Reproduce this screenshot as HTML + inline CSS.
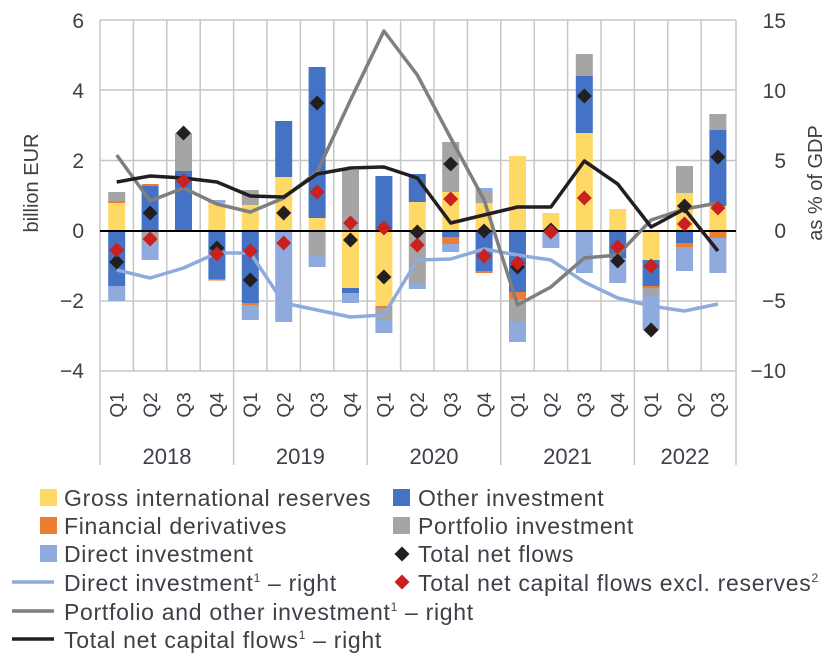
<!DOCTYPE html>
<html><head><meta charset="utf-8"><style>
html,body{margin:0;padding:0;background:#fff;}
svg{display:block;font-family:"Liberation Sans",Arial,sans-serif;}
text{fill:#3c4047;}
</style></head><body>
<svg width="840" height="660" viewBox="0 0 840 660" xmlns="http://www.w3.org/2000/svg">
<defs>
<path id="dk" d="M0,-7.5L7.5,0L0,7.5L-7.5,0Z" fill="#231f20"/>
<path id="dr" d="M0,-7.5L7.5,0L0,7.5L-7.5,0Z" fill="#c8211f"/>
</defs>
<g stroke="#c6c6c6" stroke-width="1.5">
<line x1="100" y1="20" x2="736" y2="20"/>
<line x1="100" y1="90" x2="736" y2="90"/>
<line x1="100" y1="160.5" x2="736" y2="160.5"/>
<line x1="100" y1="301" x2="736" y2="301"/>
<line x1="100" y1="371" x2="736" y2="371"/>
<line x1="100" y1="20" x2="100" y2="465"/>
<line x1="133.4" y1="20" x2="133.4" y2="371"/>
<line x1="166.8" y1="20" x2="166.8" y2="371"/>
<line x1="200.2" y1="20" x2="200.2" y2="371"/>
<line x1="233.6" y1="20" x2="233.6" y2="465"/>
<line x1="267" y1="20" x2="267" y2="371"/>
<line x1="300.4" y1="20" x2="300.4" y2="371"/>
<line x1="333.8" y1="20" x2="333.8" y2="371"/>
<line x1="367.2" y1="20" x2="367.2" y2="465"/>
<line x1="400.6" y1="20" x2="400.6" y2="371"/>
<line x1="434" y1="20" x2="434" y2="371"/>
<line x1="467.4" y1="20" x2="467.4" y2="371"/>
<line x1="500.8" y1="20" x2="500.8" y2="465"/>
<line x1="534.2" y1="20" x2="534.2" y2="371"/>
<line x1="567.6" y1="20" x2="567.6" y2="371"/>
<line x1="601" y1="20" x2="601" y2="371"/>
<line x1="634.4" y1="20" x2="634.4" y2="465"/>
<line x1="667.8" y1="20" x2="667.8" y2="371"/>
<line x1="701.2" y1="20" x2="701.2" y2="371"/>
<line x1="736" y1="20" x2="736" y2="465"/>
</g>
<g>
<rect x="108.2" y="192" width="17" height="9" fill="#a5a5a5"/>
<rect x="108.2" y="201" width="17" height="2" fill="#ed7d31"/>
<rect x="108.2" y="203" width="17" height="28" fill="#ffd966"/>
<rect x="108.2" y="231" width="17" height="55" fill="#4472c4"/>
<rect x="108.2" y="286" width="17" height="15" fill="#8faadc"/>
<rect x="141.6" y="184" width="17" height="2" fill="#ed7d31"/>
<rect x="141.6" y="186" width="17" height="45" fill="#4472c4"/>
<rect x="141.6" y="231" width="17" height="13" fill="#a5a5a5"/>
<rect x="141.6" y="244" width="17" height="16" fill="#8faadc"/>
<rect x="175" y="133" width="17" height="38" fill="#a5a5a5"/>
<rect x="175" y="171" width="17" height="60" fill="#4472c4"/>
<rect x="208.4" y="200" width="17" height="3" fill="#8faadc"/>
<rect x="208.4" y="203" width="17" height="28" fill="#ffd966"/>
<rect x="208.4" y="231" width="17" height="48" fill="#4472c4"/>
<rect x="208.4" y="279" width="17" height="1.5" fill="#ed7d31"/>
<rect x="241.8" y="190" width="17" height="15" fill="#a5a5a5"/>
<rect x="241.8" y="205" width="17" height="26" fill="#ffd966"/>
<rect x="241.8" y="231" width="17" height="72" fill="#4472c4"/>
<rect x="241.8" y="303" width="17" height="2" fill="#ed7d31"/>
<rect x="241.8" y="305" width="17" height="15" fill="#8faadc"/>
<rect x="275.2" y="121" width="17" height="56" fill="#4472c4"/>
<rect x="275.2" y="177" width="17" height="54" fill="#ffd966"/>
<rect x="275.2" y="231" width="17" height="91" fill="#8faadc"/>
<rect x="308.6" y="67" width="17" height="151" fill="#4472c4"/>
<rect x="308.6" y="218" width="17" height="13" fill="#ffd966"/>
<rect x="308.6" y="231" width="17" height="25" fill="#a5a5a5"/>
<rect x="308.6" y="256" width="17" height="11" fill="#8faadc"/>
<rect x="342" y="170" width="17" height="61" fill="#a5a5a5"/>
<rect x="342" y="231" width="17" height="57" fill="#ffd966"/>
<rect x="342" y="288" width="17" height="5" fill="#4472c4"/>
<rect x="342" y="293" width="17" height="10" fill="#8faadc"/>
<rect x="375.4" y="176" width="17" height="55" fill="#4472c4"/>
<rect x="375.4" y="231" width="17" height="75" fill="#ffd966"/>
<rect x="375.4" y="306" width="17" height="2" fill="#ed7d31"/>
<rect x="375.4" y="308" width="17" height="12" fill="#a5a5a5"/>
<rect x="375.4" y="320" width="17" height="13" fill="#8faadc"/>
<rect x="408.8" y="174" width="17" height="28" fill="#4472c4"/>
<rect x="408.8" y="202" width="17" height="29" fill="#ffd966"/>
<rect x="408.8" y="231" width="17" height="53" fill="#a5a5a5"/>
<rect x="408.8" y="284" width="17" height="5" fill="#8faadc"/>
<rect x="442.2" y="142" width="17" height="50" fill="#a5a5a5"/>
<rect x="442.2" y="192" width="17" height="39" fill="#ffd966"/>
<rect x="442.2" y="231" width="17" height="6" fill="#4472c4"/>
<rect x="442.2" y="237" width="17" height="7" fill="#ed7d31"/>
<rect x="442.2" y="244" width="17" height="8" fill="#8faadc"/>
<rect x="475.6" y="188" width="17" height="3" fill="#8faadc"/>
<rect x="475.6" y="191" width="17" height="12" fill="#a5a5a5"/>
<rect x="475.6" y="203" width="17" height="28" fill="#ffd966"/>
<rect x="475.6" y="231" width="17" height="40" fill="#4472c4"/>
<rect x="475.6" y="271" width="17" height="2" fill="#ed7d31"/>
<rect x="509" y="156" width="17" height="75" fill="#ffd966"/>
<rect x="509" y="231" width="17" height="61" fill="#4472c4"/>
<rect x="509" y="292" width="17" height="7" fill="#ed7d31"/>
<rect x="509" y="299" width="17" height="23" fill="#a5a5a5"/>
<rect x="509" y="322" width="17" height="20" fill="#8faadc"/>
<rect x="542.4" y="213" width="17" height="18" fill="#ffd966"/>
<rect x="542.4" y="231" width="17" height="17" fill="#8faadc"/>
<rect x="575.8" y="54" width="17" height="22" fill="#a5a5a5"/>
<rect x="575.8" y="76" width="17" height="57" fill="#4472c4"/>
<rect x="575.8" y="133" width="17" height="98" fill="#ffd966"/>
<rect x="575.8" y="231" width="17" height="42" fill="#8faadc"/>
<rect x="609.2" y="209" width="17" height="22" fill="#ffd966"/>
<rect x="609.2" y="231" width="17" height="27" fill="#4472c4"/>
<rect x="609.2" y="258" width="17" height="25" fill="#8faadc"/>
<rect x="642.6" y="231" width="17" height="29" fill="#ffd966"/>
<rect x="642.6" y="260" width="17" height="26" fill="#4472c4"/>
<rect x="642.6" y="286" width="17" height="2" fill="#ed7d31"/>
<rect x="642.6" y="288" width="17" height="8" fill="#a5a5a5"/>
<rect x="642.6" y="296" width="17" height="34" fill="#8faadc"/>
<rect x="676" y="166" width="17" height="27" fill="#a5a5a5"/>
<rect x="676" y="193" width="17" height="38" fill="#ffd966"/>
<rect x="676" y="231" width="17" height="12" fill="#4472c4"/>
<rect x="676" y="243" width="17" height="4" fill="#ed7d31"/>
<rect x="676" y="247" width="17" height="24" fill="#8faadc"/>
<rect x="709.4" y="114" width="17" height="16" fill="#a5a5a5"/>
<rect x="709.4" y="130" width="17" height="76" fill="#4472c4"/>
<rect x="709.4" y="206" width="17" height="25" fill="#ffd966"/>
<rect x="709.4" y="231" width="17" height="7" fill="#ed7d31"/>
<rect x="709.4" y="238" width="17" height="35" fill="#8faadc"/>
</g>
<line x1="100" y1="231" x2="736" y2="231" stroke="#000" stroke-width="2"/>
<g fill="none" stroke-width="3.5" stroke-linejoin="round">
<polyline stroke="#8faadc" points="116.7,270 150.1,278 183.5,268 216.9,253 250.3,253 283.7,303 317.1,310 350.5,317 383.9,315 417.3,260 450.7,259 484.1,249 517.5,255 550.9,260 584.3,282 617.7,298 651.1,306 684.5,311 717.9,304"/>
<polyline stroke="#7f7f7f" points="116.7,155 150.1,201 183.5,188 216.9,204 250.3,212 283.7,198 317.1,172 350.5,100 383.9,31 417.3,75 450.7,138 484.1,200 517.5,305 550.9,287 584.3,258 617.7,255 651.1,220 684.5,209 717.9,203"/>
<polyline stroke="#231f20" points="116.7,182 150.1,176 183.5,178 216.9,182 250.3,196 283.7,197 317.1,174 350.5,168 383.9,167 417.3,178 450.7,223 484.1,215 517.5,207 550.9,207 584.3,161 617.7,184 651.1,227 684.5,209 717.9,251"/>
</g>
<use href="#dk" x="116.7" y="262"/><use href="#dr" x="116.7" y="250"/>
<use href="#dk" x="150.1" y="213"/><use href="#dr" x="150.1" y="239"/>
<use href="#dk" x="183.5" y="133"/><use href="#dr" x="183.5" y="181"/>
<use href="#dk" x="216.9" y="248"/><use href="#dr" x="216.9" y="254"/>
<use href="#dk" x="250.3" y="280"/><use href="#dr" x="250.3" y="251"/>
<use href="#dk" x="283.7" y="213"/><use href="#dr" x="283.7" y="243"/>
<use href="#dk" x="317.1" y="103"/><use href="#dr" x="317.1" y="192"/>
<use href="#dk" x="350.5" y="240"/><use href="#dr" x="350.5" y="223"/>
<use href="#dk" x="383.9" y="277"/><use href="#dr" x="383.9" y="228"/>
<use href="#dk" x="417.3" y="232"/><use href="#dr" x="417.3" y="245"/>
<use href="#dk" x="450.7" y="164"/><use href="#dr" x="450.7" y="199"/>
<use href="#dk" x="484.1" y="231"/><use href="#dr" x="484.1" y="256"/>
<use href="#dk" x="517.5" y="267"/><use href="#dr" x="517.5" y="263"/>
<use href="#dk" x="550.9" y="230"/><use href="#dr" x="550.9" y="232"/>
<use href="#dk" x="584.3" y="96"/><use href="#dr" x="584.3" y="198"/>
<use href="#dk" x="617.7" y="261"/><use href="#dr" x="617.7" y="247"/>
<use href="#dk" x="651.1" y="330"/><use href="#dr" x="651.1" y="266"/>
<use href="#dk" x="684.5" y="206"/><use href="#dr" x="684.5" y="224"/>
<use href="#dk" x="717.9" y="157"/><use href="#dr" x="717.9" y="208"/>
<g font-size="21" text-anchor="end">
<text x="84" y="28">6</text>
<text x="84" y="98">4</text>
<text x="84" y="168">2</text>
<text x="84" y="238">0</text>
<text x="84" y="308">−2</text>
<text x="84" y="378">−4</text>
</g>
<g font-size="21" text-anchor="end">
<text x="786" y="28">15</text>
<text x="786" y="98">10</text>
<text x="786" y="168">5</text>
<text x="786" y="238">0</text>
<text x="786" y="308">−5</text>
<text x="786" y="378">−10</text>
</g>
<text font-size="20" text-anchor="middle" transform="translate(38,183) rotate(-90)">billion EUR</text>
<text font-size="20" text-anchor="middle" transform="translate(822,183) rotate(-90)">as % of GDP</text>
<g font-size="19" text-anchor="middle">
<text transform="translate(123.5,405) rotate(-90)">Q1</text>
<text transform="translate(156.9,405) rotate(-90)">Q2</text>
<text transform="translate(190.3,405) rotate(-90)">Q3</text>
<text transform="translate(223.7,405) rotate(-90)">Q4</text>
<text transform="translate(257.1,405) rotate(-90)">Q1</text>
<text transform="translate(290.5,405) rotate(-90)">Q2</text>
<text transform="translate(323.9,405) rotate(-90)">Q3</text>
<text transform="translate(357.3,405) rotate(-90)">Q4</text>
<text transform="translate(390.7,405) rotate(-90)">Q1</text>
<text transform="translate(424.1,405) rotate(-90)">Q2</text>
<text transform="translate(457.5,405) rotate(-90)">Q3</text>
<text transform="translate(490.9,405) rotate(-90)">Q4</text>
<text transform="translate(524.3,405) rotate(-90)">Q1</text>
<text transform="translate(557.7,405) rotate(-90)">Q2</text>
<text transform="translate(591.1,405) rotate(-90)">Q3</text>
<text transform="translate(624.5,405) rotate(-90)">Q4</text>
<text transform="translate(657.9,405) rotate(-90)">Q1</text>
<text transform="translate(691.3,405) rotate(-90)">Q2</text>
<text transform="translate(724.7,405) rotate(-90)">Q3</text>
</g>
<g font-size="22" text-anchor="middle">
<text x="167" y="464">2018</text>
<text x="300.4" y="464">2019</text>
<text x="434" y="464">2020</text>
<text x="567.6" y="464">2021</text>
<text x="685" y="464">2022</text>
</g>
<g font-size="23" letter-spacing="0.7">
<rect x="40" y="489" width="17" height="17" fill="#ffd966"/><text x="64" y="506">Gross international reserves</text>
<rect x="40" y="517" width="17" height="17" fill="#ed7d31"/><text x="64" y="534">Financial derivatives</text>
<rect x="40" y="545" width="17" height="17" fill="#8faadc"/><text x="64" y="562">Direct investment</text>
<line x1="12" y1="582" x2="54" y2="582" stroke="#8faadc" stroke-width="3.5"/><text x="64" y="591">Direct investment<tspan font-size="12" dy="-9">1</tspan><tspan dy="9"> – right</tspan></text>
<line x1="12" y1="611" x2="54" y2="611" stroke="#7f7f7f" stroke-width="3.5"/><text x="64" y="620">Portfolio and other investment<tspan font-size="12" dy="-9">1</tspan><tspan dy="9"> – right</tspan></text>
<line x1="12" y1="639" x2="54" y2="639" stroke="#231f20" stroke-width="3.5"/><text x="64" y="648">Total net capital flows<tspan font-size="12" dy="-9">1</tspan><tspan dy="9"> – right</tspan></text>
<rect x="393" y="489" width="17" height="17" fill="#4472c4"/><text x="418" y="506">Other investment</text>
<rect x="393" y="517" width="17" height="17" fill="#a5a5a5"/><text x="418" y="534">Portfolio investment</text>
<use href="#dk" x="402" y="554"/><text x="418" y="562">Total net flows</text>
<use href="#dr" x="402" y="582"/><text x="418" y="591">Total net capital flows excl. reserves<tspan font-size="12" dy="-9">2</tspan></text>
</g>
</svg>
</body></html>
